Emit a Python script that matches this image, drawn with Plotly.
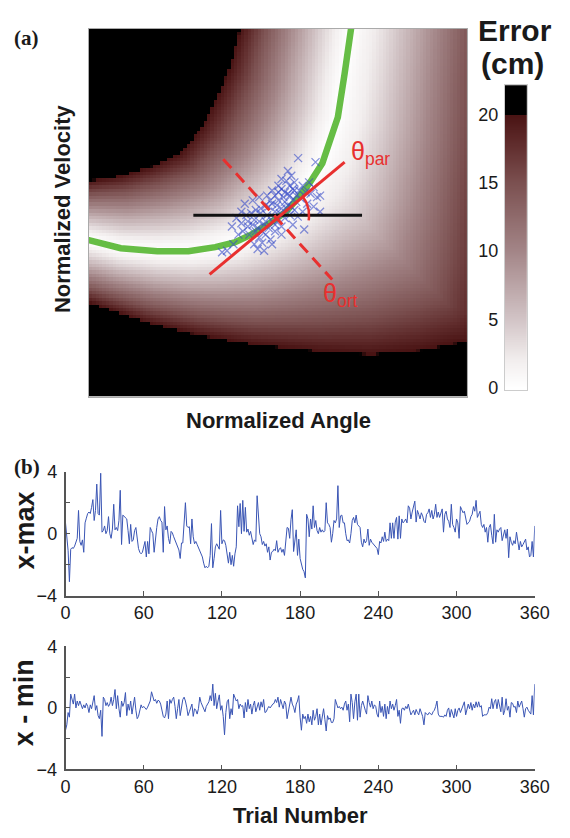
import numpy as np
import plotly.graph_objects as go

# ---------------- Panel (a) data (normalized units) ----------------
curve_angle = [-0.05, 0.0, 0.084, 0.181, 0.263, 0.334, 0.385, 0.429, 0.472, 0.520, 0.554, 0.584, 0.617, 0.640, 0.658, 0.676, 0.693, 0.70]
curve_vel = [0.43, 0.425, 0.403, 0.395, 0.395, 0.406, 0.419, 0.440, 0.467, 0.501, 0.541, 0.581, 0.634, 0.698, 0.759, 0.878, 1.0, 1.05]

# error = 20 cm contours (edge of the black region)
ul_angle = [-0.05, 0.0, 0.084, 0.168, 0.242, 0.298, 0.334, 0.372, 0.390, 0.401, 0.41]
ul_vel = [0.58, 0.586, 0.599, 0.626, 0.660, 0.732, 0.804, 0.891, 0.963, 1.0, 1.05]
lr_angle = [-0.05, 0.0, 0.148, 0.288, 0.429, 0.612, 0.747, 0.88, 1.0, 1.05, 1.07, 1.08, 1.1]
lr_vel = [0.265, 0.255, 0.202, 0.167, 0.141, 0.122, 0.114, 0.125, 0.149, 0.2, 0.35, 0.6, 1.05]

sc_angle = [0.553,0.599,0.535,0.526,0.509,0.518,0.531,0.539,0.548,0.560, 0.573,0.586,0.603,0.611,0.514,0.501,0.484,0.475,0.467,0.454,
            0.441,0.429,0.416,0.420,0.433,0.450,0.463,0.475,0.492,0.501, 0.484,0.467,0.450,0.441,0.424,0.407,0.395,0.382,0.365,0.352,
            0.569,0.611,0.594,0.543,0.531,0.518,0.492,0.458,0.437,0.446, 0.463,0.480,0.509,0.492,0.531,0.543,0.565,0.582,0.594,0.577,
            0.552,0.539,0.433,0.412,0.403,0.390,0.378,0.450,0.471,0.484, 0.501,0.522,0.539,0.556,0.471,0.454,0.437,0.420,0.403,0.509,
            0.526,0.548,0.565,0.509,0.484,0.458,0.492,0.509,0.518,0.497, 0.480,0.505,0.488,0.526,0.543,0.446,0.467,0.522,0.535,0.501]
sc_vel = [0.648,0.637,0.600,0.613,0.564,0.555,0.546,0.533,0.529,0.538, 0.555,0.551,0.542,0.546,0.542,0.533,0.524,0.516,0.520,0.511,
          0.507,0.498,0.493,0.476,0.467,0.476,0.467,0.458,0.449,0.480, 0.476,0.440,0.432,0.449,0.440,0.449,0.440,0.414,0.396,0.392,
          0.454,0.502,0.516,0.507,0.493,0.485,0.467,0.418,0.414,0.401, 0.396,0.427,0.511,0.502,0.573,0.582,0.573,0.582,0.569,0.524,
          0.489,0.467,0.533,0.524,0.502,0.485,0.462,0.542,0.546,0.560, 0.573,0.586,0.564,0.560,0.493,0.498,0.480,0.462,0.471,0.462,
          0.520,0.546,0.502,0.440,0.414,0.449,0.546,0.591,0.529,0.520, 0.533,0.498,0.489,0.551,0.560,0.458,0.476,0.511,0.516,0.555]

par_angle = [0.319, 0.676]
par_vel = [0.332, 0.637]
ort_angle = [0.355, 0.643]
ort_vel = [0.645, 0.318]
hor_angle = [0.276, 0.722]
hor_vel = [0.493, 0.493]
arc_center = [0.503, 0.493]
arc_radius = [0.079, 0.082]
arc_deg = [39, -10]

cb_ticks = [0, 5, 10, 15, 20]
err_levels = [0, 2, 5, 10, 15, 18, 19.95, 20.0, 22]
err_colors = ['#ffffff', '#f2eeee', '#d2c4c6', '#a38587', '#7b5050', '#5e2a2a', '#491313', '#000000', '#000000']

# ---------------- Panel (b) data ----------------
trials = list(range(0, 361))
x_max = [0.7, -0.4, -1.1, -3.1, -1.0, -0.9, -0.95, -0.8, -0.6, -0.3,
         1.5, -0.5, -0.75, -0.4, -1.2, 0.7, 1.0, 1.3, 1.4, 1.3,
         1.7, 2.2, 0.85, 1.5, 3.2, 1.3, 1.2, 3.9, 0.1, 0.2,
         0.5, 0.0, 0.2, 1.1, 0.0, -0.3, 0.3, 1.9, 0.25, 0.4,
         0.2, 0.85, 2.8, -0.7, 1.2, 1.1, 1.0, 0.95, 0.2, -0.65,
         0.6, -0.5, -0.4, 0.2, 0.4, -0.45, -0.95, -1.2, -1.3, -1.2,
         -0.85, -0.5, -1.5, -0.5, -1.3, 0.4, 0.2, 0.0, -1.2, -0.2,
         0.4, 0.95, 1.1, 0.85, 0.75, -1.2, 1.75, 0.25, 0.5, -0.3,
         -0.65, 0.15, 0.05, -0.2, -0.4, -0.6, -0.75, -1.05, -1.6, -0.6,
         -0.6, 0.85, 2.0, 0.5, 0.4, 0.45, -0.65, 0.95, -0.2, -0.65,
         -0.5, -0.7, -0.9, -1.05, -1.3, -1.5, -1.9, -2.2, -2.1, -2.2,
         -2.1, -1.4, 0.65, -2.2, -1.6, -0.85, -0.65, -0.9, -1.0, 1.5,
         -0.65, -0.4, -0.45, -0.75, -1.4, -1.9, -1.2, -2.0, -1.4, -2.1,
         -1.3, -0.85, 1.8, 0.45, 1.95, 0.0, 2.15, 0.15, 1.7, 0.1,
         0.3, -0.1, 0.15, -0.4, -0.7, -0.4, -0.5, 2.45, 0.85, 0.0,
         -0.2, -0.7, -0.5, -0.8, -0.65, -1.2, -0.85, -1.7, -1.2, -1.15,
         -1.0, -1.1, -0.45, -1.2, -1.0, -0.9, -1.2, -1.0, -1.4, -0.6,
         0.4, 0.35, -0.3, 0.9, 1.55, -1.15, -0.5, 0.25, -1.4, -0.35,
         -1.6, -2.0, -2.3, -2.45, -2.85, 1.25, 0.95, -0.2, 0.95, 0.3,
         1.8, 0.4, 0.85, 0.2, 0.0, 0.4, 0.1, 0.25, 0.1, 0.2,
         2.0, 0.7, 0.6, 0.4, -0.55, 0.0, 0.85, 0.7, 0.95, 3.1,
         0.4, 1.15, 1.2, 0.7, 0.7, 0.0, -0.45, -0.4, -0.6, 0.0,
         0.85, 1.05, 0.7, 1.2, 0.6, 0.5, 0.4, -0.55, -0.85, -0.35,
         -0.6, -0.45, 0.3, -0.75, -0.35, -0.55, -0.65, -0.7, -0.8, -0.95,
         -1.35, -0.5, -0.6, -0.2, -0.5, 0.1, -0.5, -0.35, -0.45, 0.7,
         -0.3, 0.7, -0.3, 0.75, 1.05, -0.35, 1.15, -0.3, 0.95, 0.7,
         0.8, 0.95, 0.7, 1.8, 1.65, 0.95, 1.4, 1.8, 2.1, 0.75,
         1.5, 1.25, 0.95, 1.35, 1.15, 0.8, 0.7, 1.25, 1.35, 1.6,
         1.05, 1.5, 0.95, 1.25, 1.9, 1.05, 1.4, 1.05, 1.4, 1.6,
         0.1, 1.25, 1.45, 0.95, 0.8, 0.4, 1.9, 0.6, 0.4, 0.1,
         0.95, 0.7, -0.3, 1.75, 1.55, 1.35, 1.45, 0.95, 0.6, 0.7,
         0.8, 1.1, 1.25, 1.75, 1.45, 2.15, 1.05, 1.25, 1.45, 0.6,
         0.4, 0.6, 0.1, 0.4, -0.55, 0.4, 0.6, -0.1, -0.65, 1.25,
         -0.55, 0.25, 0.1, 0.3, 0.4, -0.45, 0.0, 0.25, -0.3, 0.3,
         -1.55, -0.2, -0.55, -0.75, -0.45, -0.65, 0.1, -0.5, -1.05, -0.5,
         -0.85, -0.7, -0.45, -0.35, -1.05, -0.85, -1.5, -1.4, -0.5, -1.5, 0.5]
x_min = [-1.45, -1.1, -0.3, -0.6, 0.9, 0.55, 0.25, 0.9, 0.0, 0.45,
         0.15, 0.45, 0.25, -0.05, 0.2, 0.0, 0.3, 0.1, -0.3, 0.2,
         -0.05, 0.45, 0.8, -0.15, 0.15, -0.5, -0.7, -0.15, -1.85, 0.7,
         0.55, 0.15, 0.35, 0.1, 0.25, 0.7, 0.15, 0.55, 1.2, -0.05,
         0.8, -0.05, -0.6, 0.45, 0.1, 0.35, 1.0, -0.5, 0.25, -0.15,
         0.45, -0.4, 0.2, 0.7, -0.15, -0.7, -0.55, -0.05, 0.2, 0.0,
         0.1, 0.0, -0.1, 0.05, 0.25, 0.45, 1.05, 0.7, 0.45, 0.55,
         0.3, 0.5, 0.45, 0.25, -0.3, -0.55, -0.65, -0.4, 0.45, -0.7,
         0.55, 0.3, 0.55, 0.7, 0.1, -0.7, -0.05, 0.55, -0.5, -0.05,
         0.55, 0.7, 0.45, 0.05, -0.5, -0.25, 0.1, 0.25, -0.55, -0.05,
         -0.15, -0.4, -0.05, 0.7, 0.35, 0.1, -0.05, -0.25, 0.1, 0.25,
         0.4, 0.8, 0.45, 1.55, 0.15, 0.95, -0.05, 0.45, 0.85, -0.15,
         0.15, -0.55, -1.75, -0.3, 0.4, 0.55, -0.7, -0.05, -0.45, 0.9,
         0.7, 0.45, 0.55, -0.05, 0.25, 0.1, 0.15, -0.65, 0.35, -0.25,
         0.55, -0.05, 0.25, -0.4, 0.15, 0.45, -0.25, 0.1, 0.35, -0.15,
         0.4, 0.05, 0.55, -0.3, -0.25, -0.05, 0.1, 0.0, 0.15, 0.25,
         0.3, 0.55, 0.35, 0.7, 0.05, 0.55, 0.25, -0.05, 0.45, 0.25,
         -0.7, -0.15, 0.1, 0.7, 0.25, 0.05, -0.3, 0.25, 0.45, 0.8,
         -0.6, -1.45, -0.4, -0.7, -0.55, -1.0, -0.4, -0.9, -0.55, -1.1,
         -0.15, -0.8, -0.55, -0.05, -1.1, -0.4, -1.1, -0.55, -0.05, -0.75,
         -1.5, -0.5, -0.75, -0.65, -0.95, -0.95, -0.7, 0.55, 0.25, 0.0,
         0.1, -0.05, 0.05, -0.15, 0.25, 0.45, -0.15, 0.25, -0.9, 0.9,
         0.35, -0.7, 0.4, 0.9, -0.8, 0.9, -0.6, 0.15, 0.45, 0.05,
         -0.15, -0.4, 0.8, 0.35, 0.05, 0.45, -0.05, 0.2, 0.1, -0.4,
         -0.6, 0.45, -0.3, 0.1, -0.55, 0.25, -0.7, 0.1, -0.4, 0.45,
         -0.05, 0.25, -0.15, 0.15, 0.55, -0.55, -0.15, -1.0, -0.05, 0.0,
         -0.15, 0.1, -0.05, 0.25, -0.05, -0.45, -0.3, -0.15, -0.45, -0.1,
         -0.3, -0.45, -0.05, -0.25, -0.55, -1.1, -0.3, -0.4, -0.45, -0.3,
         -0.35, -0.45, -0.25, -0.15, 0.1, 0.45, -0.4, -0.55, -0.55, -0.55,
         -0.6, -0.45, -0.55, -0.15, 0.0, -0.6, -0.1, -0.4, -0.65, -0.05,
         -0.55, -0.15, 0.0, -0.3, -0.05, 0.1, 0.4, -0.45, -0.05, 0.25,
         -0.05, 0.35, -0.15, 0.25, 0.0, 0.4, 0.05, 0.4, 0.05, 0.15,
         -0.55, -0.45, -0.45, -0.45, -0.3, 0.05, -0.05, 0.6, -0.05, 0.4,
         0.55, -0.05, 0.55, 0.15, -0.25, 0.7, -0.45, -0.15, 0.6, -0.15,
         0.1, -0.6, 0.35, 0.3, 0.05, 0.1, -0.3, 0.45, 0.05, 0.25,
         0.45, -0.05, -0.6, -0.05, 0.05, -0.15, -0.3, -0.4, 0.8, -0.45, 1.55]
trial_ticks = [0, 60, 120, 180, 240, 300, 360]
y_ticks = [-4, 0, 4]
y_minor_ticks = [-2, 2]

# ---------------- Build the error field from the read contours ----------------
PXW, PXH = 392.0, 377.0  # plot aspect used for distances


def seg_dist(px, py, xs, ys):
    d = np.full(px.shape, np.inf)
    for k in range(len(xs) - 1):
        ax, ay, bx, by = xs[k], ys[k], xs[k + 1], ys[k + 1]
        dx, dy = bx - ax, by - ay
        t = np.clip(((px - ax) * dx + (py - ay) * dy) / (dx * dx + dy * dy), 0, 1)
        d = np.minimum(d, np.hypot(px - (ax + t * dx), py - (ay + t * dy)))
    return d


def inside(px, py, vx, vy):
    res = np.zeros(px.shape, bool)
    n = len(vx)
    j = n - 1
    for i in range(n):
        xi, yi, xj, yj = vx[i], vy[i], vx[j], vy[j]
        if yi != yj:
            cond = ((yi > py) != (yj > py)) & (px < (xj - xi) * (py - yi) / (yj - yi) + xi)
            res ^= cond
        j = i
    return res


NX, NY = 112, 108
gx = (np.arange(NX) + 0.5) / NX
gy = (np.arange(NY) + 0.5) / NY
U, V = np.meshgrid(gx, gy)
P, Q = U * PXW, V * PXH
dc = seg_dist(P, Q, np.array(curve_angle) * PXW, np.array(curve_vel) * PXH)
d_ul = seg_dist(P, Q, np.array(ul_angle) * PXW, np.array(ul_vel) * PXH)
d_lr = seg_dist(P, Q, np.array(lr_angle) * PXW, np.array(lr_vel) * PXH)
db = np.minimum(d_ul, d_lr)
poly_x = ul_angle + lr_angle[::-1]
poly_y = ul_vel + lr_vel[::-1]
band = inside(U, V, np.array(poly_x), np.array(poly_y))
ratio = dc / (dc + db + 1e-9)
err = np.where(band, 20.0 * ratio ** 1.2, 22.0)

zmax = 22.0
colorscale = [[lv / zmax, c] for lv, c in zip(err_levels, err_colors)]

th = np.radians(np.linspace(arc_deg[0], arc_deg[1], 30))
arc_x = arc_center[0] + arc_radius[0] * np.cos(th)
arc_y = arc_center[1] + arc_radius[1] * np.sin(th)

cb_y = np.linspace(-0.2, 22.2, 449)
cb_z = [[min(max(v, 0), 22), min(max(v, 0), 22)] for v in cb_y]

W, H = 570, 838
def px(x):
    return x / W
def py(y):
    return 1 - y / H

FONT = 'Liberation Sans'
TXT = '#1a1a1a'
RED = '#e8302f'
BLUE = 'rgba(55,75,200,0.6)'

fig = go.Figure()
fig.add_trace(go.Heatmap(x=gx, y=gy, z=err, colorscale=colorscale, zmin=0, zmax=zmax,
                         showscale=False, xaxis='x', yaxis='y', hoverinfo='skip'))
fig.add_trace(go.Scatter(x=curve_angle, y=curve_vel, mode='lines',
                         line=dict(color='#66bd45', width=6.5), xaxis='x', yaxis='y'))
fig.add_trace(go.Scatter(x=sc_angle, y=sc_vel, mode='markers',
                         marker=dict(symbol='x-thin', size=8, color=BLUE, line=dict(color=BLUE, width=1.3)),
                         xaxis='x', yaxis='y'))
fig.add_trace(go.Scatter(x=hor_angle, y=hor_vel, mode='lines', line=dict(color='#111111', width=3),
                         xaxis='x', yaxis='y'))
fig.add_trace(go.Scatter(x=par_angle, y=par_vel, mode='lines', line=dict(color=RED, width=3),
                         xaxis='x', yaxis='y'))
fig.add_trace(go.Scatter(x=ort_angle, y=ort_vel, mode='lines', line=dict(color=RED, width=3, dash='12px,7px'),
                         xaxis='x', yaxis='y'))
fig.add_trace(go.Scatter(x=arc_x, y=arc_y, mode='lines', line=dict(color=RED, width=2.5),
                         xaxis='x', yaxis='y'))

# colour bar drawn as a narrow heatmap with its own value axis
fig.add_trace(go.Heatmap(x=[0, 1], y=cb_y, z=cb_z, colorscale=colorscale, zmin=0, zmax=zmax,
                         showscale=False, xaxis='x2', yaxis='y2', hoverinfo='skip'))

fig.add_trace(go.Scatter(x=trials, y=x_max, mode='lines', line=dict(color='#3a55b4', width=1),
                         xaxis='x3', yaxis='y3'))
fig.add_trace(go.Scatter(x=trials, y=x_min, mode='lines', line=dict(color='#3a55b4', width=1),
                         xaxis='x4', yaxis='y4'))

axis_common = dict(showgrid=False, zeroline=False)
ts_x = dict(**axis_common, range=[0, 360], tickvals=trial_ticks, ticks='inside', ticklen=5,
            tickcolor='#555555', showline=True, linecolor='#555555', linewidth=1.5,
            tickfont=dict(family=FONT, size=18, color=TXT), domain=[px(62.7), px(549)])
ts_y = dict(**axis_common, range=[-4, 4], tickvals=y_ticks, ticks='inside',
            ticklen=5, tickcolor='#555555', showline=True, linecolor='#555555', linewidth=1.5,
            tickfont=dict(family=FONT, size=18, color=TXT), ticklabelstandoff=3,
            minor=dict(tickmode='array', tickvals=y_minor_ticks, ticks='inside', ticklen=5,
                       tickcolor='#555555', showgrid=False))

fig.update_layout(
    width=W, height=H, margin=dict(l=0, r=0, t=0, b=0),
    paper_bgcolor='white', plot_bgcolor='white', showlegend=False,
    font=dict(family=FONT, color=TXT),
    xaxis=dict(**axis_common, domain=[px(87), px(479)], range=[0, 1], showticklabels=False, ticks='',
               showline=True, linecolor='#aaaaaa', linewidth=1, mirror=True, anchor='y'),
    yaxis=dict(**axis_common, domain=[py(396), py(19)], range=[0, 1], showticklabels=False, ticks='',
               showline=True, linecolor='#aaaaaa', linewidth=1, mirror=True, anchor='x'),
    xaxis2=dict(**axis_common, domain=[px(518), px(541)], range=[-0.5, 1.5], showticklabels=False,
                ticks='', showline=True, linecolor='#cccccc', mirror=True, anchor='y2'),
    yaxis2=dict(**axis_common, domain=[py(389), py(77)], range=[-0.14, 22.14], tickvals=cb_ticks,
                ticks='', side='left', showline=True, linecolor='#cccccc', mirror=True, anchor='x2',
                tickfont=dict(family=FONT, size=18, color=TXT), ticklabelstandoff=2),
    xaxis3=dict(ts_x, anchor='y3'),
    yaxis3=dict(ts_y, domain=[py(600), py(473)], anchor='x3'),
    xaxis4=dict(ts_x, anchor='y4'),
    yaxis4=dict(ts_y, domain=[py(778), py(652)], anchor='x4'),
)

ann = []
def add_text(text, x, y, size, bold=True, family=FONT, angle=0, color=TXT, xanchor='center'):
    t = '<b>%s</b>' % text if bold else text
    ann.append(dict(text=t, x=px(x), y=py(y), xref='paper', yref='paper', showarrow=False,
                    xanchor=xanchor, yanchor='middle', textangle=angle,
                    font=dict(family=family, size=size, color=color)))

add_text('(a)', 7, 29, 21, family='Liberation Serif', xanchor='left')
add_text('(b)', 7, 468, 21, family='Liberation Serif', xanchor='left')
add_text('Normalized Velocity', 59, 203, 22, angle=-90)
add_text('Normalized Angle', 283, 421, 22)
add_text('Error', 529, 21, 30)
add_text('(cm)', 526, 55, 30)
add_text('x-max', 21, 533, 27, angle=-90)
add_text('x - min', 20, 710, 27, angle=-90)
add_text('Trial Number', 306, 825, 22)
add_text('θ<sub>par</sub>', 356, 146, 25, bold=False, color=RED, xanchor='left')
add_text('θ<sub>ort</sub>', 327, 292, 25, bold=False, color=RED, xanchor='left')
fig.update_layout(annotations=ann)

fig.write_html('out.html')
